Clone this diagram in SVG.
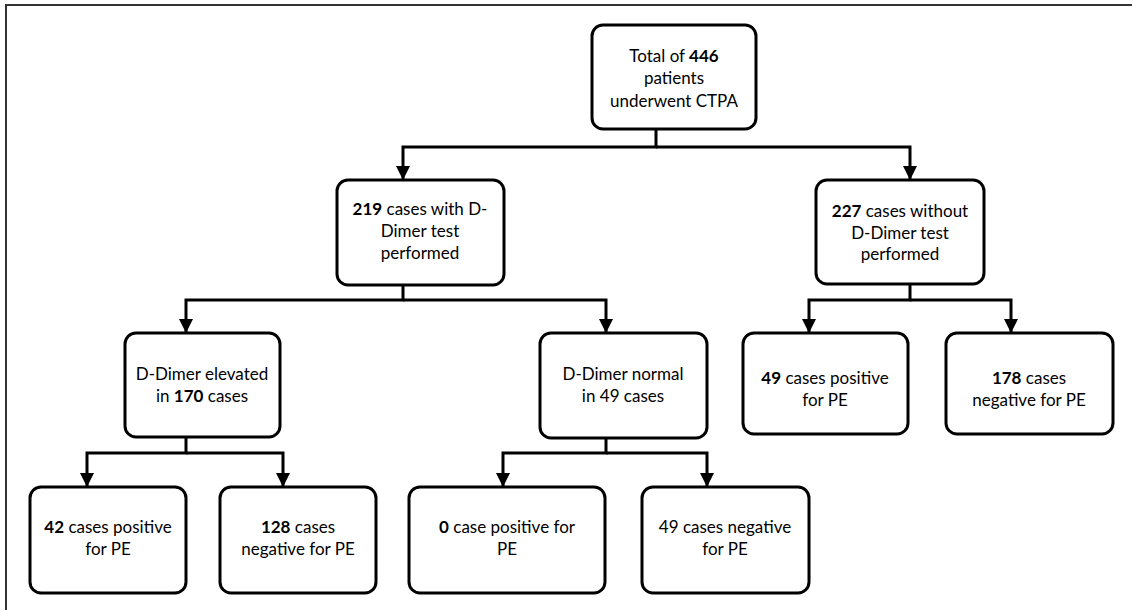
<svg xmlns="http://www.w3.org/2000/svg" width="1132" height="610" viewBox="0 0 1132 610">
<style>
.box{fill:#fff;stroke:#000;stroke-width:3}
.conn{fill:none;stroke:#000;stroke-width:3}
text{font-family:Lato,"Open Sans","Liberation Sans",sans-serif;font-size:17px;fill:#000;text-anchor:middle}
.b{font-weight:bold}
</style>
<defs>
<marker id="arr" markerUnits="userSpaceOnUse" viewBox="0 0 14 14" refX="14" refY="7" markerWidth="14" markerHeight="14" orient="auto">
<path d="M0,0 L14,7 L0,14 z" fill="#000"/>
</marker>
</defs>
<rect width="1132" height="610" fill="#fff"/>
<path d="M6,610 V5 H1132" fill="none" stroke="#333" stroke-width="2"/>
<g id="connectors">
<path class="conn" d="M656,129 V147 H403 V180" marker-end="url(#arr)"/>
<path class="conn" d="M656,147 H910 V180" marker-end="url(#arr)"/>
<path class="conn" d="M403,285 V300 H186 V333" marker-end="url(#arr)"/>
<path class="conn" d="M403,300 H606 V333" marker-end="url(#arr)"/>
<path class="conn" d="M910,284 V300 H809 V333" marker-end="url(#arr)"/>
<path class="conn" d="M910,300 H1011 V333" marker-end="url(#arr)"/>
<path class="conn" d="M186,437 V453 H87 V487" marker-end="url(#arr)"/>
<path class="conn" d="M186,453 H283 V487" marker-end="url(#arr)"/>
<path class="conn" d="M606,438 V453 H503 V487" marker-end="url(#arr)"/>
<path class="conn" d="M606,453 H707 V487" marker-end="url(#arr)"/>
</g>
<g id="n_total">
<rect class="box" x="592" y="25" width="164" height="104" rx="11"/>
<text x="674" y="62">Total of <tspan class="b">446</tspan></text>
<text x="674" y="84">patients</text>
<text x="674" y="107">underwent CTPA</text>
</g>
<g id="n_219">
<rect class="box" x="337" y="180" width="167" height="105" rx="11"/>
<text x="420" y="215"><tspan class="b">219</tspan> cases with D-</text>
<text x="420" y="237">Dimer test</text>
<text x="420" y="259">performed</text>
</g>
<g id="n_227">
<rect class="box" x="816" y="180" width="168" height="104" rx="11"/>
<text x="900" y="217"><tspan class="b">227</tspan> cases without</text>
<text x="900" y="239">D-Dimer test</text>
<text x="900" y="260">performed</text>
</g>
<g id="n_elev">
<rect class="box" x="125" y="333" width="155" height="104" rx="11"/>
<text x="202" y="380">D-Dimer elevated</text>
<text x="202" y="402">in <tspan class="b">170</tspan> cases</text>
</g>
<g id="n_norm">
<rect class="box" x="540" y="333" width="167" height="105" rx="11"/>
<text x="623" y="380">D-Dimer normal</text>
<text x="623" y="402">in 49 cases</text>
</g>
<g id="n_49pos">
<rect class="box" x="743" y="333" width="165" height="101" rx="11"/>
<text x="825" y="384"><tspan class="b">49</tspan> cases positive</text>
<text x="825" y="406">for PE</text>
</g>
<g id="n_178neg">
<rect class="box" x="946" y="333" width="167" height="101" rx="11"/>
<text x="1029" y="384"><tspan class="b">178</tspan> cases</text>
<text x="1029" y="406">negative for PE</text>
</g>
<g id="n_42pos">
<rect class="box" x="30" y="487" width="156" height="106" rx="11"/>
<text x="108" y="533"><tspan class="b">42</tspan> cases positive</text>
<text x="108" y="555">for PE</text>
</g>
<g id="n_128neg">
<rect class="box" x="220" y="487" width="156" height="106" rx="11"/>
<text x="298" y="533"><tspan class="b">128</tspan> cases</text>
<text x="298" y="555">negative for PE</text>
</g>
<g id="n_0pos">
<rect class="box" x="409" y="487" width="196" height="106" rx="11"/>
<text x="507" y="533"><tspan class="b">0</tspan> case positive for</text>
<text x="507" y="555">PE</text>
</g>
<g id="n_49neg">
<rect class="box" x="642" y="487" width="167" height="106" rx="11"/>
<text x="725" y="533">49 cases negative</text>
<text x="725" y="555">for PE</text>
</g>
</svg>
